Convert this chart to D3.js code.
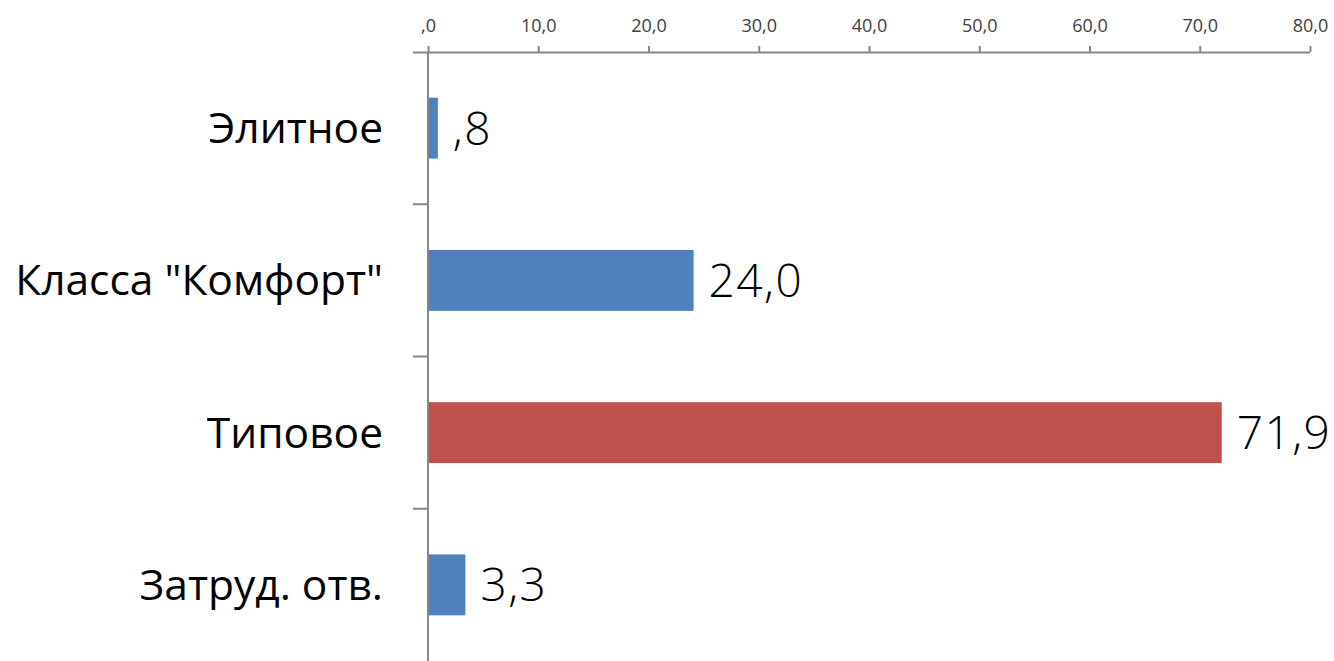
<!DOCTYPE html>
<html>
<head>
<meta charset="utf-8">
<script src="https://cdn.jsdelivr.net/npm/d3@7"></script>
<style>
  html, body { margin: 0; padding: 0; background: #fff; }
  #chart { width: 1334px; height: 661px; }
</style>
</head>
<body>
<div id="chart"></div>
<script>
// Данные
const categories = ["Элитное", "Класса \"Комфорт\"", "Типовое", "Затруд. отв."];
const values = [0.8, 24.0, 71.9, 3.3];
const highlight = ["Типовое"];
const xTicks = [0, 10, 20, 30, 40, 50, 60, 70, 80];

const colors = { normal: "#4f81bd", accent: "#c0504d" };
const axisColor = "#868686";

// формат с запятой, без ведущего нуля (",8", ",0")
const ru = d3.formatLocale({ decimal: ",", thousands: " ", grouping: [3], currency: ["", ""] });
const fmt1 = ru.format(".1f");
const fmt = (v) => fmt1(v).replace(/^0,/, ",");

function createChart(containerId) {
  const width = 1334, height = 661;
  const margin = { top: 52, right: 24, bottom: 0, left: 428 };
  const innerH = height - margin.top - margin.bottom;

  const svg = d3.select(containerId).append("svg")
    .attr("width", width)
    .attr("height", height);

  const g = svg.append("g").attr("transform", `translate(${margin.left},${margin.top})`);

  const x = d3.scaleLinear().domain([0, 80]).range([0, 882]);
  const y = d3.scaleBand().domain(categories).range([0, innerH]).paddingInner(0.6).paddingOuter(0.3);
  const yBand = d3.scaleBand().domain(categories).range([0, innerH]);

  const data = categories.map((c, i) => ({ cat: c, value: values[i] }));

  // Верхняя ось
  const xAxis = g.append("g")
    .call(d3.axisTop(x).tickValues(xTicks).tickFormat(fmt).tickSize(6).tickSizeOuter(0));
  xAxis.select(".domain").attr("stroke", axisColor).attr("stroke-width", 2)
    .attr("d", `M-15,0.5H${x(80)}`);
  xAxis.selectAll(".tick line").attr("stroke", axisColor).attr("stroke-width", 2);
  xAxis.selectAll(".tick text")
    .attr("y", -20)
    .style("font-family", "'Open Sans', 'Noto Sans', sans-serif")
    .style("font-size", "18px")
    .style("font-weight", "400")
    .style("fill", "#404040");

  // Вертикальная ось (категории)
  g.append("line")
    .attr("x1", 0).attr("x2", 0)
    .attr("y1", 0).attr("y2", innerH)
    .attr("stroke", axisColor).attr("stroke-width", 2);

  g.selectAll(".cat-tick")
    .data(categories.slice(1))
    .enter().append("line")
    .attr("class", "cat-tick")
    .attr("x1", -15).attr("x2", 0)
    .attr("y1", (d) => yBand(d)).attr("y2", (d) => yBand(d))
    .attr("stroke", axisColor).attr("stroke-width", 2);

  // Подписи категорий
  g.selectAll(".cat-label")
    .data(categories)
    .enter().append("text")
    .attr("class", "cat-label")
    .attr("x", -45)
    .attr("y", (d) => yBand(d) + yBand.bandwidth() / 2)
    .attr("dy", "0.35em")
    .attr("text-anchor", "end")
    .style("font-family", "'Open Sans', 'Noto Sans', sans-serif")
    .style("font-size", "42.5px")
    .attr("fill", "#000")
    .text((d) => d);

  // Полосы
  g.selectAll(".bar")
    .data(data)
    .enter().append("rect")
    .attr("class", "bar")
    .attr("x", x(0) + 1)
    .attr("y", (d) => y(d.cat))
    .attr("width", (d) => x(d.value) - x(0))
    .attr("height", y.bandwidth())
    .attr("fill", (d) => highlight.includes(d.cat) ? colors.accent : colors.normal);

  // Значения
  g.selectAll(".val")
    .data(data)
    .enter().append("text")
    .attr("class", "val")
    .attr("x", (d) => x(d.value) + 16)
    .attr("y", (d) => y(d.cat) + y.bandwidth() / 2)
    .attr("dy", "0.36em")
    .style("font-family", "'Open Sans', 'Noto Sans', sans-serif")
    .style("font-size", "46px")
    .style("font-weight", "300")
    .style("letter-spacing", "1.5px")
    .attr("fill", "#000")
    .text((d) => fmt(d.value));
}

createChart("#chart");
</script>
</body>
</html>
